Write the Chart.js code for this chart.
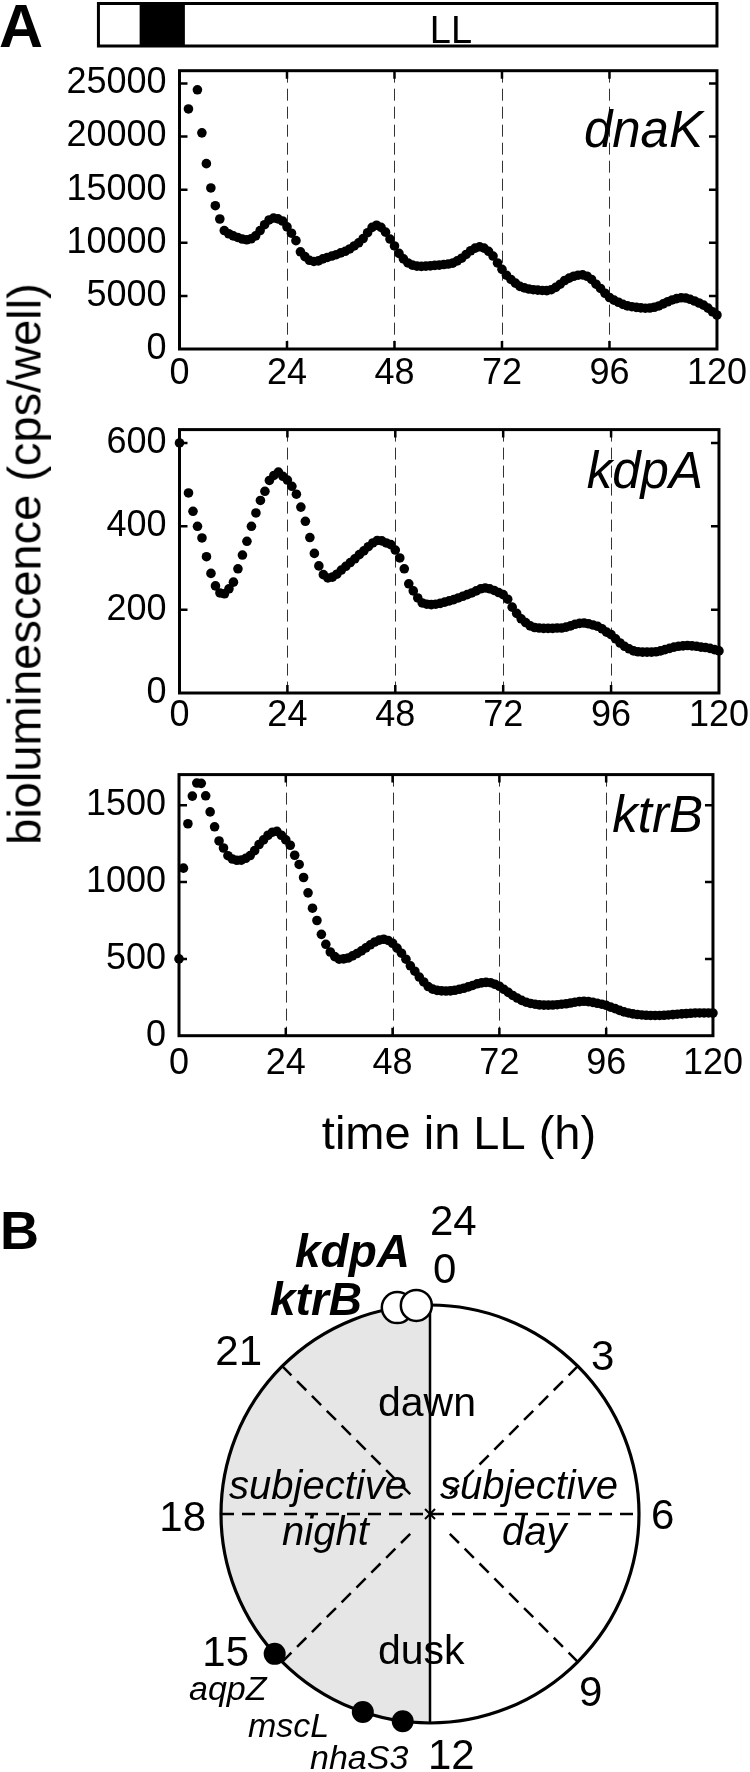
<!DOCTYPE html>
<html>
<head>
<meta charset="utf-8">
<title>Bioluminescence rhythms in LL and circadian phases</title>
<script src="https://cdn.jsdelivr.net/npm/chart.js@4.4.1/dist/chart.umd.min.js"></script>
<style>
  html, body { margin:0; padding:0; background:#fff; }
  body { position:relative; width:750px; height:1772px; overflow:hidden; font-family:'Liberation Sans', Arial, Helvetica, sans-serif; }
  canvas { position:absolute; left:0; }
  #ytitle { position:absolute; left:24px; top:564px; transform:translate(-50%,-50%) rotate(-90deg);
            font-size:47px; line-height:1; white-space:nowrap; color:#000; z-index:5; }
</style>
</head>
<body>
<canvas id="cA1" width="750" height="395" style="top:0px"></canvas>
<canvas id="cA2" width="750" height="345" style="top:395px"></canvas>
<canvas id="cA3" width="750" height="430" style="top:740px"></canvas>
<canvas id="cB" width="750" height="602" style="top:1170px"></canvas>
<div id="ytitle">bioluminescence (cps/well)</div>
<script>
const FONT = "'Liberation Sans', Arial, Helvetica, sans-serif";
Chart.defaults.font.family = FONT;
Chart.defaults.color = '#000';

// ---------- Panel A data (time in LL, hours) ----------
const hours = [0,1,2,3,4,5,6,7,8,9,10,11,12,13,14,15,16,17,18,19,20,21,22,23,24,25,26,27,28,29,
  30,31,32,33,34,35,36,37,38,39,40,41,42,43,44,45,46,47,48,49,50,51,52,53,54,55,56,57,58,59,
  60,61,62,63,64,65,66,67,68,69,70,71,72,73,74,75,76,77,78,79,80,81,82,83,84,85,86,87,88,89,
  90,91,92,93,94,95,96,97,98,99,100,101,102,103,104,105,106,107,108,109,110,111,112,113,114,115,116,117,118,119,120];

const dnaK = [null,null,22600,null,24400,20350,17450,15160,13490,12240,
  11150,10850,10650,10500,10350,10280,10380,10650,11150,11700,
  12150,12330,12250,12050,11500,10900,10200,9150,8700,8350,
  8240,8300,8480,8620,8750,8880,9050,9200,9420,9700,
  10000,10400,10950,11450,11650,11450,11000,10350,9700,9000,
  8480,8100,7900,7800,7780,7800,7830,7870,7900,7950,
  8000,8080,8300,8550,8900,9250,9500,9620,9500,9200,
  8750,8100,7500,6950,6550,6200,5900,5750,5650,5580,
  5540,5510,5500,5580,5800,6100,6450,6670,6850,6950,
  6980,6850,6550,6100,5700,5250,4850,4600,4400,4200,
  4060,3980,3920,3870,3840,3860,3930,4050,4250,4450,
  4620,4740,4820,4800,4680,4520,4330,4130,3850,3500,
  3200];

const kdpA = [600,null,480,436,400,372,327,287,257,240,
  238,250,266,298,331,364,400,432,462,484,
  510,522,530,520,511,496,477,446,412,373,
  335,305,284,276,278,285,295,304,313,322,
  332,341,351,360,366,365,360,356,343,324,
  298,262,245,228,216,213,212,213,215,218,
  221,224,228,232,236,240,245,250,252,250,
  246,241,236,225,206,191,178,169,161,157,
  156,155,155,155,156,156,158,161,165,167,
  168,166,163,160,154,146,140,130,120,112,
  106,101,99,98,98,98,99,101,104,107,
  110,112,113,114,113,112,110,109,107,104,
  101];

const ktrB = [500,1091,1380,1560,1645,1643,1562,1457,1360,1268,
  1222,1172,1150,1142,1143,1155,1173,1205,1245,1275,
  1305,1325,1331,1305,1275,1240,1175,1115,1030,930,
  830,750,660,595,545,515,498,500,506,520,
  535,552,572,592,610,622,628,620,602,570,
  537,498,455,420,382,350,320,303,295,292,
  291,292,296,302,309,318,327,338,344,347,
  345,335,322,302,282,262,245,230,218,210,
  205,201,199,199,200,202,205,208,213,218,
  222,224,222,217,211,205,198,186,176,165,
  155,148,142,138,135,133,132,132,132,133,
  135,137,140,142,144,146,148,148,148,148,
  147];

const xTicks = [0, 24, 48, 72, 96, 120];
const dashedHours = [24, 48, 72, 96];
const yTicksDnaK = [0, 5000, 10000, 15000, 20000, 25000];
const yTicksKdpA = [0, 200, 400, 600];
const yTicksKtrB = [0, 500, 1000, 1500];
const yMaxes = [26200, 632, 1700];
// light/dark schedule bar (hours): light start, dark start, dark end = LL start, end
const ldHours = [-18.1, -8.9, 1.2, 120];

// ---------- Panel B data (circadian phase, hours) ----------
const filledGenes = ['aqpZ', 'mscL', 'nhaS3'];
const filledPhase = [15.2, 13.25, 12.5];
const openGenes = ['ktrB', 'kdpA'];
const openPhase = [23.4, 23.75];
const diagHours = [3, 9, 15, 21];

function txt(ctx, s, x, y, font, align) {
  ctx.font = font + ' ' + FONT;
  ctx.textAlign = align || 'left';
  ctx.textBaseline = 'alphabetic';
  ctx.fillStyle = '#000';
  ctx.fillText(s, x, y);
}

function framePlugin(extra) {
  return {
    id: 'frame',
    beforeDatasetsDraw(chart) {
      const {ctx, chartArea: a, scales: {x, y}} = chart;
      ctx.save();
      ctx.strokeStyle = '#333'; ctx.lineWidth = 1; ctx.setLineDash([12, 6]);
      dashedHours.forEach(h => {
        const px = Math.round(x.getPixelForValue(h)) + 0.5;
        ctx.beginPath(); ctx.moveTo(px, a.top); ctx.lineTo(px, a.bottom); ctx.stroke();
      });
      ctx.setLineDash([]);
      ctx.strokeStyle = '#000'; ctx.lineWidth = 2.5;
      const T = 8;
      dashedHours.forEach(h => {
        const px = x.getPixelForValue(h);
        ctx.beginPath();
        ctx.moveTo(px, a.top); ctx.lineTo(px, a.top + T);
        ctx.moveTo(px, a.bottom); ctx.lineTo(px, a.bottom - T);
        ctx.stroke();
      });
      y.ticks.forEach(t => {
        if (t.value <= y.min) return;
        const py = y.getPixelForValue(t.value);
        ctx.beginPath();
        ctx.moveTo(a.left, py); ctx.lineTo(a.left + T, py);
        ctx.moveTo(a.right, py); ctx.lineTo(a.right - T, py);
        ctx.stroke();
      });
      ctx.lineWidth = 3;
      ctx.strokeRect(a.left, a.top, a.right - a.left, a.bottom - a.top);
      ctx.restore();
    },
    afterDraw(chart) { if (extra) { chart.ctx.save(); extra(chart); chart.ctx.restore(); } }
  };
}

function makePanel(id, name, values, yMax, yTicks, g, extra) {
  const pts = [];
  hours.forEach((h, i) => { if (values[i] !== null) pts.push({x: h, y: values[i]}); });
  return new Chart(document.getElementById(id), {
    type: 'scatter',
    data: {datasets: [{label: name, data: pts, backgroundColor: '#000', borderColor: '#000',
      borderWidth: 0, pointRadius: 4.8, pointHoverRadius: 4.8, clip: false}]},
    options: {
      responsive: false, animation: false, events: [],
      layout: {autoPadding: false, padding: {left: 0, right: g.right, top: g.top, bottom: 0}},
      plugins: {legend: {display: false}, tooltip: {enabled: false}},
      scales: {
        x: {type: 'linear', position: 'bottom', min: 0, max: 120,
            grid: {display: false, drawTicks: false}, border: {display: false},
            ticks: {autoSkip: false, maxRotation: 0, padding: g.xpad,
                    font: {size: 36}, callback: v => String(v)},
            afterBuildTicks: s => { s.ticks = xTicks.map(v => ({value: v})); },
            afterFit: s => { s.height = g.xh; }},
        y: {type: 'linear', position: 'left', min: 0, max: yMax,
            grid: {display: false, drawTicks: false}, border: {display: false},
            ticks: {padding: 13, font: {size: 36}, callback: v => String(v)},
            afterBuildTicks: s => { s.ticks = yTicks.map(v => ({value: v})); },
            afterFit: s => { s.width = g.yw; }}
      }
    },
    plugins: [framePlugin(chart => {
      const ctx = chart.ctx;
      txt(ctx, name, 703, g.labelY, 'italic 51px', 'right');
      if (extra) extra(chart);
    })]
  });
}

makePanel('cA1', 'dnaK', dnaK, yMaxes[0], yTicksDnaK,
  {right: 16.5, top: 70.7, xh: 46, yw: 179.5, xpad: 3, labelY: 147},
  chart => {
    const {ctx, scales: {x}} = chart;
    const xs = ldHours.map(h => x.getPixelForValue(h));
    const top = 3.5, bot = 46;
    ctx.fillStyle = '#000';
    ctx.fillRect(xs[1], top, xs[2] - xs[1], bot - top);
    ctx.strokeStyle = '#000'; ctx.lineWidth = 3;
    ctx.strokeRect(xs[0], top, xs[3] - xs[0], bot - top);
    txt(ctx, 'LL', (xs[2] + xs[3]) / 2, 43, '38px', 'center');
    txt(ctx, 'A', -1, 47, 'bold 61px', 'left');
  });

makePanel('cA2', 'kdpA', kdpA, yMaxes[1], yTicksKdpA,
  {right: 16.5, top: 21.7, xh: 47, yw: 179.5, xpad: 1, labelY: 93});

makePanel('cA3', 'ktrB', ktrB, yMaxes[2], yTicksKtrB,
  {right: 18.5, top: 19, xh: 134.3, yw: 179, xpad: 7, labelY: 92},
  chart => { txt(chart.ctx, 'time in LL (h)', 459, 409, '47px', 'center'); });

// ---------- Panel B: phase clock ----------
const toXY = h => ({x: Math.sin(2 * Math.PI * h / 24), y: Math.cos(2 * Math.PI * h / 24)});

const clockTexts = [
  ['B', 0, 79, 'bold 54px', 'left'],
  ['24', 430, 65, '42px', 'left'],
  ['0', 433, 113, '42px', 'left'],
  ['21', 262, 195, '42px', 'right'],
  ['3', 591, 200, '42px', 'left'],
  ['18', 206, 361, '42px', 'right'],
  ['6', 651, 359, '42px', 'left'],
  ['15', 249, 496, '42px', 'right'],
  ['9', 579, 536, '42px', 'left'],
  ['12', 428, 599, '42px', 'left'],
  ['dawn', 378, 246, '41px', 'left'],
  ['dusk', 378, 494, '41px', 'left'],
  ['subjective', 229, 329, 'italic 40px', 'left'],
  ['subjective', 440, 329, 'italic 40px', 'left'],
  ['night', 282, 375, 'italic 40px', 'left'],
  ['day', 502, 375, 'italic 40px', 'left']
];
const geneTextPos = {
  kdpA: [410, 97, 'italic bold 46px', 'right'],
  ktrB: [362, 145, 'italic bold 46px', 'right'],
  aqpZ: [189, 530, 'italic 34px', 'left'],
  mscL: [248, 567, 'italic 34px', 'left'],
  nhaS3: [310, 599, 'italic 34px', 'left']
};

const clockPlugin = {
  id: 'clock',
  beforeDatasetsDraw(chart) {
    const {ctx, scales: {x, y}} = chart;
    const cx = x.getPixelForValue(0), cy = y.getPixelForValue(0);
    const r = x.getPixelForValue(1) - cx;
    ctx.save();
    ctx.beginPath(); ctx.moveTo(cx, cy - r);
    ctx.arc(cx, cy, r, -Math.PI / 2, Math.PI / 2, true); ctx.closePath();
    ctx.fillStyle = '#e6e6e6'; ctx.fill();
    ctx.strokeStyle = '#000'; ctx.lineWidth = 2.5; ctx.setLineDash([13, 8]);
    ctx.beginPath(); ctx.moveTo(cx - r, cy); ctx.lineTo(cx + r, cy); ctx.stroke();
    diagHours.forEach(h => {
      const t = 2 * Math.PI * h / 24, sx = Math.sin(t), sy = -Math.cos(t);
      ctx.beginPath(); ctx.moveTo(cx + r * sx, cy + r * sy); ctx.lineTo(cx + 20 * sx, cy + 20 * sy); ctx.stroke();
    });
    ctx.setLineDash([]);
    ctx.lineWidth = 2;
    ctx.beginPath(); ctx.moveTo(cx - 5, cy - 5); ctx.lineTo(cx + 5, cy + 5);
    ctx.moveTo(cx + 5, cy - 5); ctx.lineTo(cx - 5, cy + 5); ctx.stroke();
    ctx.lineWidth = 2.5;
    ctx.beginPath(); ctx.moveTo(cx, cy - r); ctx.lineTo(cx, cy + r); ctx.stroke();
    ctx.lineWidth = 3.2;
    ctx.beginPath(); ctx.arc(cx, cy, r, 0, 2 * Math.PI); ctx.stroke();
    clockTexts.forEach(t => txt(ctx, t[0], t[1], t[2], t[3], t[4]));
    filledGenes.concat(openGenes).forEach(g => {
      const p = geneTextPos[g];
      txt(ctx, g, p[0], p[1], p[2], p[3]);
    });
    ctx.restore();
  }
};

new Chart(document.getElementById('cB'), {
  type: 'scatter',
  data: {datasets: [
    {label: 'filled', data: filledPhase.map(toXY), pointRadius: 11, pointHoverRadius: 11,
     backgroundColor: '#000', borderColor: '#000', borderWidth: 0, clip: false},
    {label: 'open', data: openPhase.map(toXY), pointRadius: 15.5, pointHoverRadius: 15.5,
     backgroundColor: '#fff', borderColor: '#000', borderWidth: 2.5, clip: false}
  ]},
  options: {
    responsive: false, animation: false, events: [],
    layout: {autoPadding: false, padding: {left: 221, right: 111, top: 135, bottom: 49}},
    plugins: {legend: {display: false}, tooltip: {enabled: false}},
    scales: {
      x: {type: 'linear', display: false, min: -1, max: 1},
      y: {type: 'linear', display: false, min: -1, max: 1}
    }
  },
  plugins: [clockPlugin]
});
</script>
</body>
</html>
